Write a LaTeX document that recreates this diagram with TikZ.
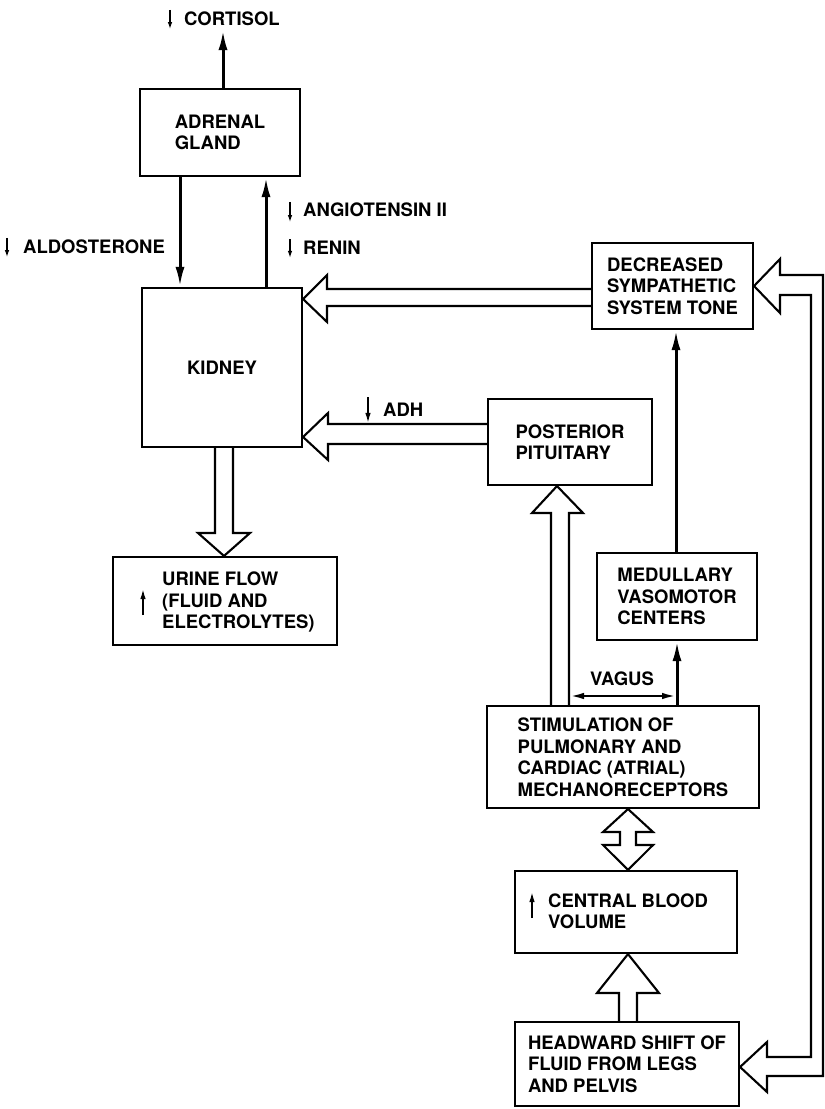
\documentclass[tikz,border=0pt]{standalone}
\usepackage{fontspec}
\setmainfont{TeX Gyre Heros}
\usetikzlibrary{arrows.meta,calc}
\begin{document}
\begin{tikzpicture}[x=1pt,y=-1pt,
  every node/.style={font=\bfseries\fontsize{18.5}{21.5}\selectfont},
  box/.style={draw,line width=2.1pt,align=left,inner sep=0pt},
  txt/.style={align=left,inner sep=0pt,anchor=west},
  lbl/.style={inner sep=0pt,anchor=west},
  main/.style={line width=3pt,-{Latex[length=20pt,width=9pt]}},
  thinarr/.style={line width=1.3pt,-{Latex[length=7pt,width=4.5pt]}},
  smallarr/.style={line width=1.6pt,-{Latex[length=10pt,width=5.5pt]}},
  vagarr/.style={line width=2.2pt,{Latex[length=14pt,width=6.5pt]}-{Latex[length=14pt,width=6.5pt]}},
  hollow/.style={line width=2.1pt,line join=miter},
]
\useasboundingbox (0,0) rectangle (825,1109);

% ---------- boxes ----------
\node[box,minimum width=160pt,minimum height=87pt] (adrenal) at (220,132.5) {ADRENAL\\GLAND};
\node[box,minimum width=160pt,minimum height=159pt] (kidney) at (222,367.5) {KIDNEY};
\node[box,minimum width=224pt,minimum height=88pt] (urine) at (225,601) {};
\node[txt] (urineT) at (162,602) {URINE FLOW\\(FLUID AND\\ELECTROLYTES)};
\node[box,minimum width=161pt,minimum height=86pt] (dec) at (672.5,286) {DECREASED\\SYMPATHETIC\\SYSTEM TONE};
\node[box,minimum width=164pt,minimum height=86pt] (pit) at (570,442) {POSTERIOR\\PITUITARY};
\node[box,minimum width=160pt,minimum height=87pt] (med) at (677,596.5) {MEDULLARY\\VASOMOTOR\\CENTERS};
\node[box,minimum width=272pt,minimum height=102pt] (stim) at (623,757) {STIMULATION OF\\PULMONARY AND\\CARDIAC (ATRIAL)\\MECHANORECEPTORS};
\node[box,minimum width=222pt,minimum height=82pt] (central) at (626,912) {};
\node[txt] (centralT) at (548,911) {CENTRAL BLOOD\\VOLUME};
\node[box,minimum width=224pt,minimum height=84pt] (head) at (627,1064) {HEADWARD SHIFT OF\\FLUID FROM LEGS\\AND PELVIS};

% ---------- labels ----------
\node[lbl] (cort) at (184,19) {CORTISOL};
\node[lbl] (aldo) at (23,247) {ALDOSTERONE};
\node[lbl] (angio) at (303,210) {ANGIOTENSIN II};
\node[lbl] (renin) at (303,248) {RENIN};
\node[lbl] (adh) at (383,410) {ADH};
\node[inner sep=0pt] (vagus) at (622,679) {VAGUS};

% small arrows in labels
\draw[thinarr] ($(cort.north west)+(-14,-2)$) -- ($(cort.south west)+(-14,3)$);
\draw[thinarr] ($(aldo.north west)+(-16,-2)$) -- ($(aldo.south west)+(-16,3)$);
\draw[thinarr] ($(angio.north west)+(-13,-1)$) -- ($(angio.south west)+(-13,5)$);
\draw[thinarr] ($(renin.north west)+(-13,-2)$) -- ($(renin.south west)+(-13,3)$);
\draw[smallarr] ($(adh.north west)+(-15,-6)$) -- ($(adh.south west)+(-15,6)$);
\draw[smallarr] ($(urineT.west)+(-19,13)$) -- ($(urineT.west)+(-19,-13)$);
\draw[smallarr] ($(centralT.west)+(-16,7)$) -- ($(centralT.west)+(-16,-19)$);

% ---------- thin arrows ----------
\coordinate (cortTop) at (223,30);
\draw[main] (adrenal.north -| cortTop) -- (cortTop);
\draw[main] (adrenal.south -| 180,0) -- (kidney.north -| 180,0);
\draw[main] (kidney.north -| 266,0) -- (adrenal.south -| 266,0);
\draw[main] (med.north -| 676,0) -- (dec.south -| 676,0);
\draw[main] (stim.north -| 677,0) -- (med.south -| 677,0);
\coordinate (vL) at (570,696);
\coordinate (vR) at (676,696);
\draw[vagarr] (vL) -- (vR);

% ---------- hollow arrows ----------
% sympathetic -> kidney
\draw[hollow] (dec.west |- 0,289) -- (327,289) -- (327,275) -- (kidney.east |- 0,299)
  -- (327,322) -- (327,306) -- (dec.west |- 0,306);
% ADH: pituitary -> kidney
\draw[hollow] (pit.west |- 0,424) -- (328,424) -- (328,413) -- (kidney.east |- 0,437)
  -- (328,460) -- (328,444) -- (pit.west |- 0,444);
% kidney -> urine
\draw[hollow] (kidney.south -| 215,0) -- (215,533) -- (198,533) -- (urine.north -| 224,0)
  -- (250,533) -- (233,533) -- (kidney.south -| 233,0);
% stimulation -> pituitary
\draw[hollow] (stim.north -| 551,0) -- (551,513) -- (532,513) -- (pit.south -| 557,0)
  -- (583,513) -- (569,513) -- (stim.north -| 569,0);
% stimulation <-> central blood volume
\draw[hollow] (stim.south -| 628,0) -- (653,832) -- (636,832) -- (636,845) -- (653,845)
  -- (central.north -| 628,0) -- (603,845) -- (620,845) -- (620,832) -- (603,832) -- cycle;
% headward shift -> central blood volume
\draw[hollow] (head.north -| 619,0) -- (619,993) -- (597,993) -- (central.south -| 628,0)
  -- (659,993) -- (637,993) -- (head.north -| 637,0);
% big loop into decreased sympathetic tone and headward shift
\draw[hollow] (823,275) -- (780,275) -- (780,259) -- (dec.east |- 0,286) -- (780,313)
  -- (780,295) -- (811,295) -- (811,1057) -- (767,1057) -- (767,1042)
  -- (head.east |- 0,1067) -- (767,1092) -- (767,1076) -- (823,1076) -- cycle;
\end{tikzpicture}
\end{document}
